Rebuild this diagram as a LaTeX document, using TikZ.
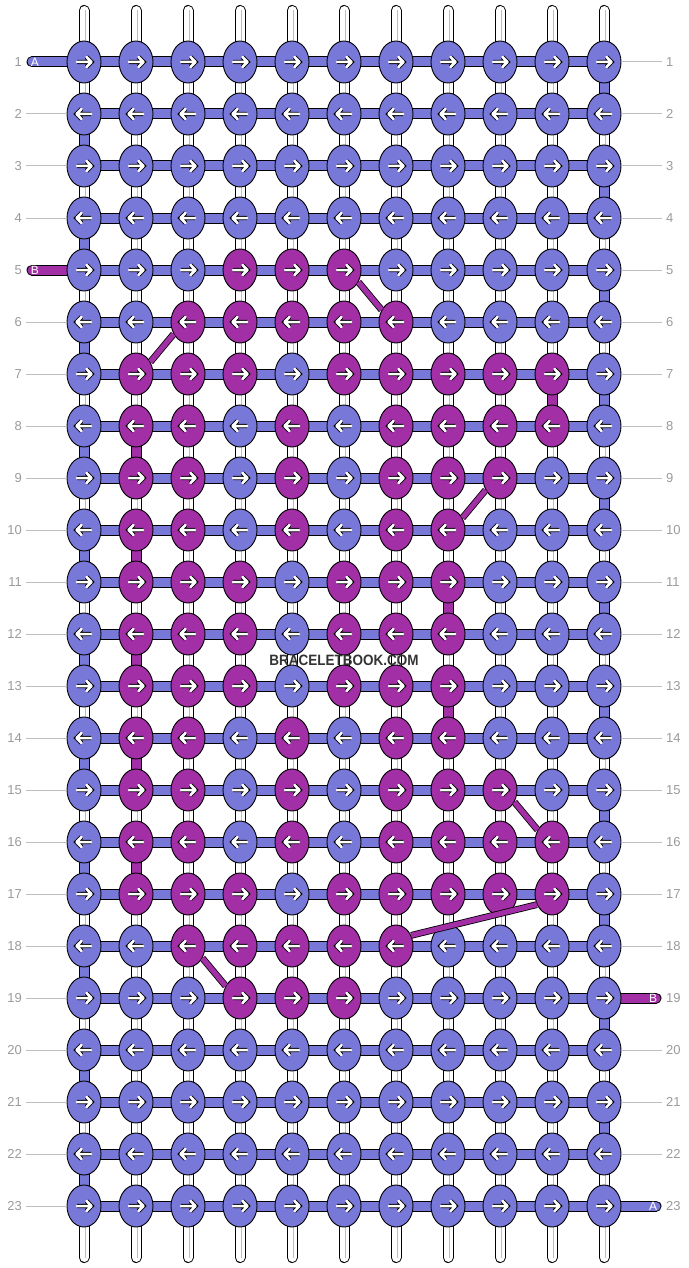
\documentclass[tikz,border=0pt]{standalone}
\usepackage{fontspec}
\setmainfont{Liberation Sans}
\usetikzlibrary{shapes.geometric}

\definecolor{knot0}{HTML}{7878D8}
\definecolor{knot1}{HTML}{A22FA5}
\definecolor{rowtext}{HTML}{9A9A9A}
\definecolor{rowline}{HTML}{BDBDBD}

\tikzset{
  knot/.style={ellipse, draw=black, line width=0.9pt, minimum width=34pt, minimum height=42pt, inner sep=0pt},
  thread/.style={draw=black, line width=1pt, double=#1, double distance=9pt},
  warp/.style={thread=white, line cap=round},
  cross/.style={draw=black, line width=0.8pt, double=knot1, double distance=5.2pt},
  knotarrow/.style={white, line width=2.5pt, line cap=round, line join=round, preaction={draw=black, line width=4.3pt}},
  rownum/.style={text=rowtext, inner sep=0pt, font=\fontsize{13}{13}\selectfont},
  guide/.style={draw=rowline, line width=1pt, shorten <=4pt},
  endname/.style={text=white, inner sep=0pt, font=\fontsize{12}{12}\selectfont}
}

\begin{document}
\begin{tikzpicture}[x=1pt, y=-1pt]
    \useasboundingbox (0,0) rectangle (688,1268);

    % Grid
    \foreach \r in {1,...,23}
      \foreach \c in {1,...,11}
        \coordinate (p-\r-\c) at (32+52*\c, 10+52*\r);

    % Warp threads
    \foreach \c in {1,...,11} {
      \coordinate (w-top-\c) at (32+52*\c, 10.5);
      \coordinate (w-bot-\c) at (32+52*\c, 1257.5);
      \draw[warp] (w-top-\c) -- (w-bot-\c);
      \draw[rowline, line width=0.6pt] ([xshift=1pt]w-top-\c) -- ([xshift=1pt]w-bot-\c);
    }

    % A turns at the edges
    \foreach \r in {1,...,22} {
      \pgfmathtruncatemacro\s{\r+1}
      \ifodd\r\relax
        \draw[thread=knot0] (p-\r-11) -- (p-\s-11);
      \else
        \draw[thread=knot0] (p-\r-1) -- (p-\s-1);
      \fi
    }

    % B goes down a row
    \foreach \r/\c in {7/10, 8/2, 10/2, 11/8, 12/2, 13/8, 14/2, 16/2} {
      \pgfmathtruncatemacro\s{\r+1}
      \draw[thread=knot1] (p-\r-\c) -- (p-\s-\c);
    }

    % Rows
    \foreach \r in {1,...,23}
      \draw[thread=knot0] (p-\r-1) -- (p-\r-11);

    % Loose ends
    \coordinate (A-in) at (32,62);
    \coordinate (B-in) at (32,270);
    \coordinate (B-out) at (656,998);
    \coordinate (A-out) at (656,1206);
    \draw[thread=knot0, line cap=round] (A-in) -- (p-1-1);
    \draw[thread=knot1, line cap=round] (B-in) -- (p-5-1);
    \draw[thread=knot1, line cap=round] (p-19-11) -- (B-out);
    \draw[thread=knot0, line cap=round] (p-23-11) -- (A-out);
    \node[endname] (A-in-name) at (35,62) {A};
    \node[endname] (B-in-name) at (35,270) {B};
    \node[endname] (B-out-name) at (653,998) {B};
    \node[endname] (A-out-name) at (653,1206) {A};

    % Knots
    \foreach \r/\row in {
      1/{0,0,0,0,0,0,0,0,0,0,0},
      2/{0,0,0,0,0,0,0,0,0,0,0},
      3/{0,0,0,0,0,0,0,0,0,0,0},
      4/{0,0,0,0,0,0,0,0,0,0,0},
      5/{0,0,0,1,1,1,0,0,0,0,0},
      6/{0,0,1,1,1,1,1,0,0,0,0},
      7/{0,1,1,1,0,1,1,1,1,1,0},
      8/{0,1,1,0,1,0,1,1,1,1,0},
      9/{0,1,1,0,1,0,1,1,1,0,0},
      10/{0,1,1,0,1,0,1,1,0,0,0},
      11/{0,1,1,1,0,1,1,1,0,0,0},
      12/{0,1,1,1,0,1,1,1,0,0,0},
      13/{0,1,1,1,0,1,1,1,0,0,0},
      14/{0,1,1,0,1,0,1,1,0,0,0},
      15/{0,1,1,0,1,0,1,1,1,0,0},
      16/{0,1,1,0,1,0,1,1,1,1,0},
      17/{0,1,1,1,0,1,1,1,1,1,0},
      18/{0,0,1,1,1,1,1,0,0,0,0},
      19/{0,0,0,1,1,1,0,0,0,0,0},
      20/{0,0,0,0,0,0,0,0,0,0,0},
      21/{0,0,0,0,0,0,0,0,0,0,0},
      22/{0,0,0,0,0,0,0,0,0,0,0},
      23/{0,0,0,0,0,0,0,0,0,0,0}}
      \foreach \k [count=\c] in \row {
        \node[knot, fill=knot\k] (k-\r-\c) at (p-\r-\c) {};
        \ifodd\r\relax \def\dir{1}\else \def\dir{-1}\fi
        \draw[knotarrow, shift={(k-\r-\c.center)}, xscale=\dir] (-7,0) -- (7.5,0) (2.5,-5) -- (7.5,0) -- (2.5,5);
      }

    % B changes row on the slant
    \foreach \a/\b in {5-6.320/6-7.140, 6-3.220/7-2.40, 9-9.220/10-8.40, 15-9.320/16-10.140, 17-10.215/18-7.35, 18-3.320/19-4.140}
      \draw[cross] (k-\a) -- (k-\b);

    % Row numbers
    \foreach \r in {1,...,23} {
      \node[rownum, anchor=east] (lnum-\r) at (22, 10+52*\r) {\r};
      \node[rownum, anchor=west] (rnum-\r) at (666, 10+52*\r) {\r};
    }
    \foreach \r in {2,3,4,6,7,...,23}
      \draw[guide] (lnum-\r) -- (k-\r-1);
    \foreach \r in {1,...,18,20,21,22}
      \draw[guide] (rnum-\r) -- (k-\r-11);

    \node[font=\bfseries\fontsize{15}{15}\selectfont, text=black!80, xscale=0.9, transform shape] (brand) at (344,660) {BRACELETBOOK.COM};
\end{tikzpicture}
\end{document}
